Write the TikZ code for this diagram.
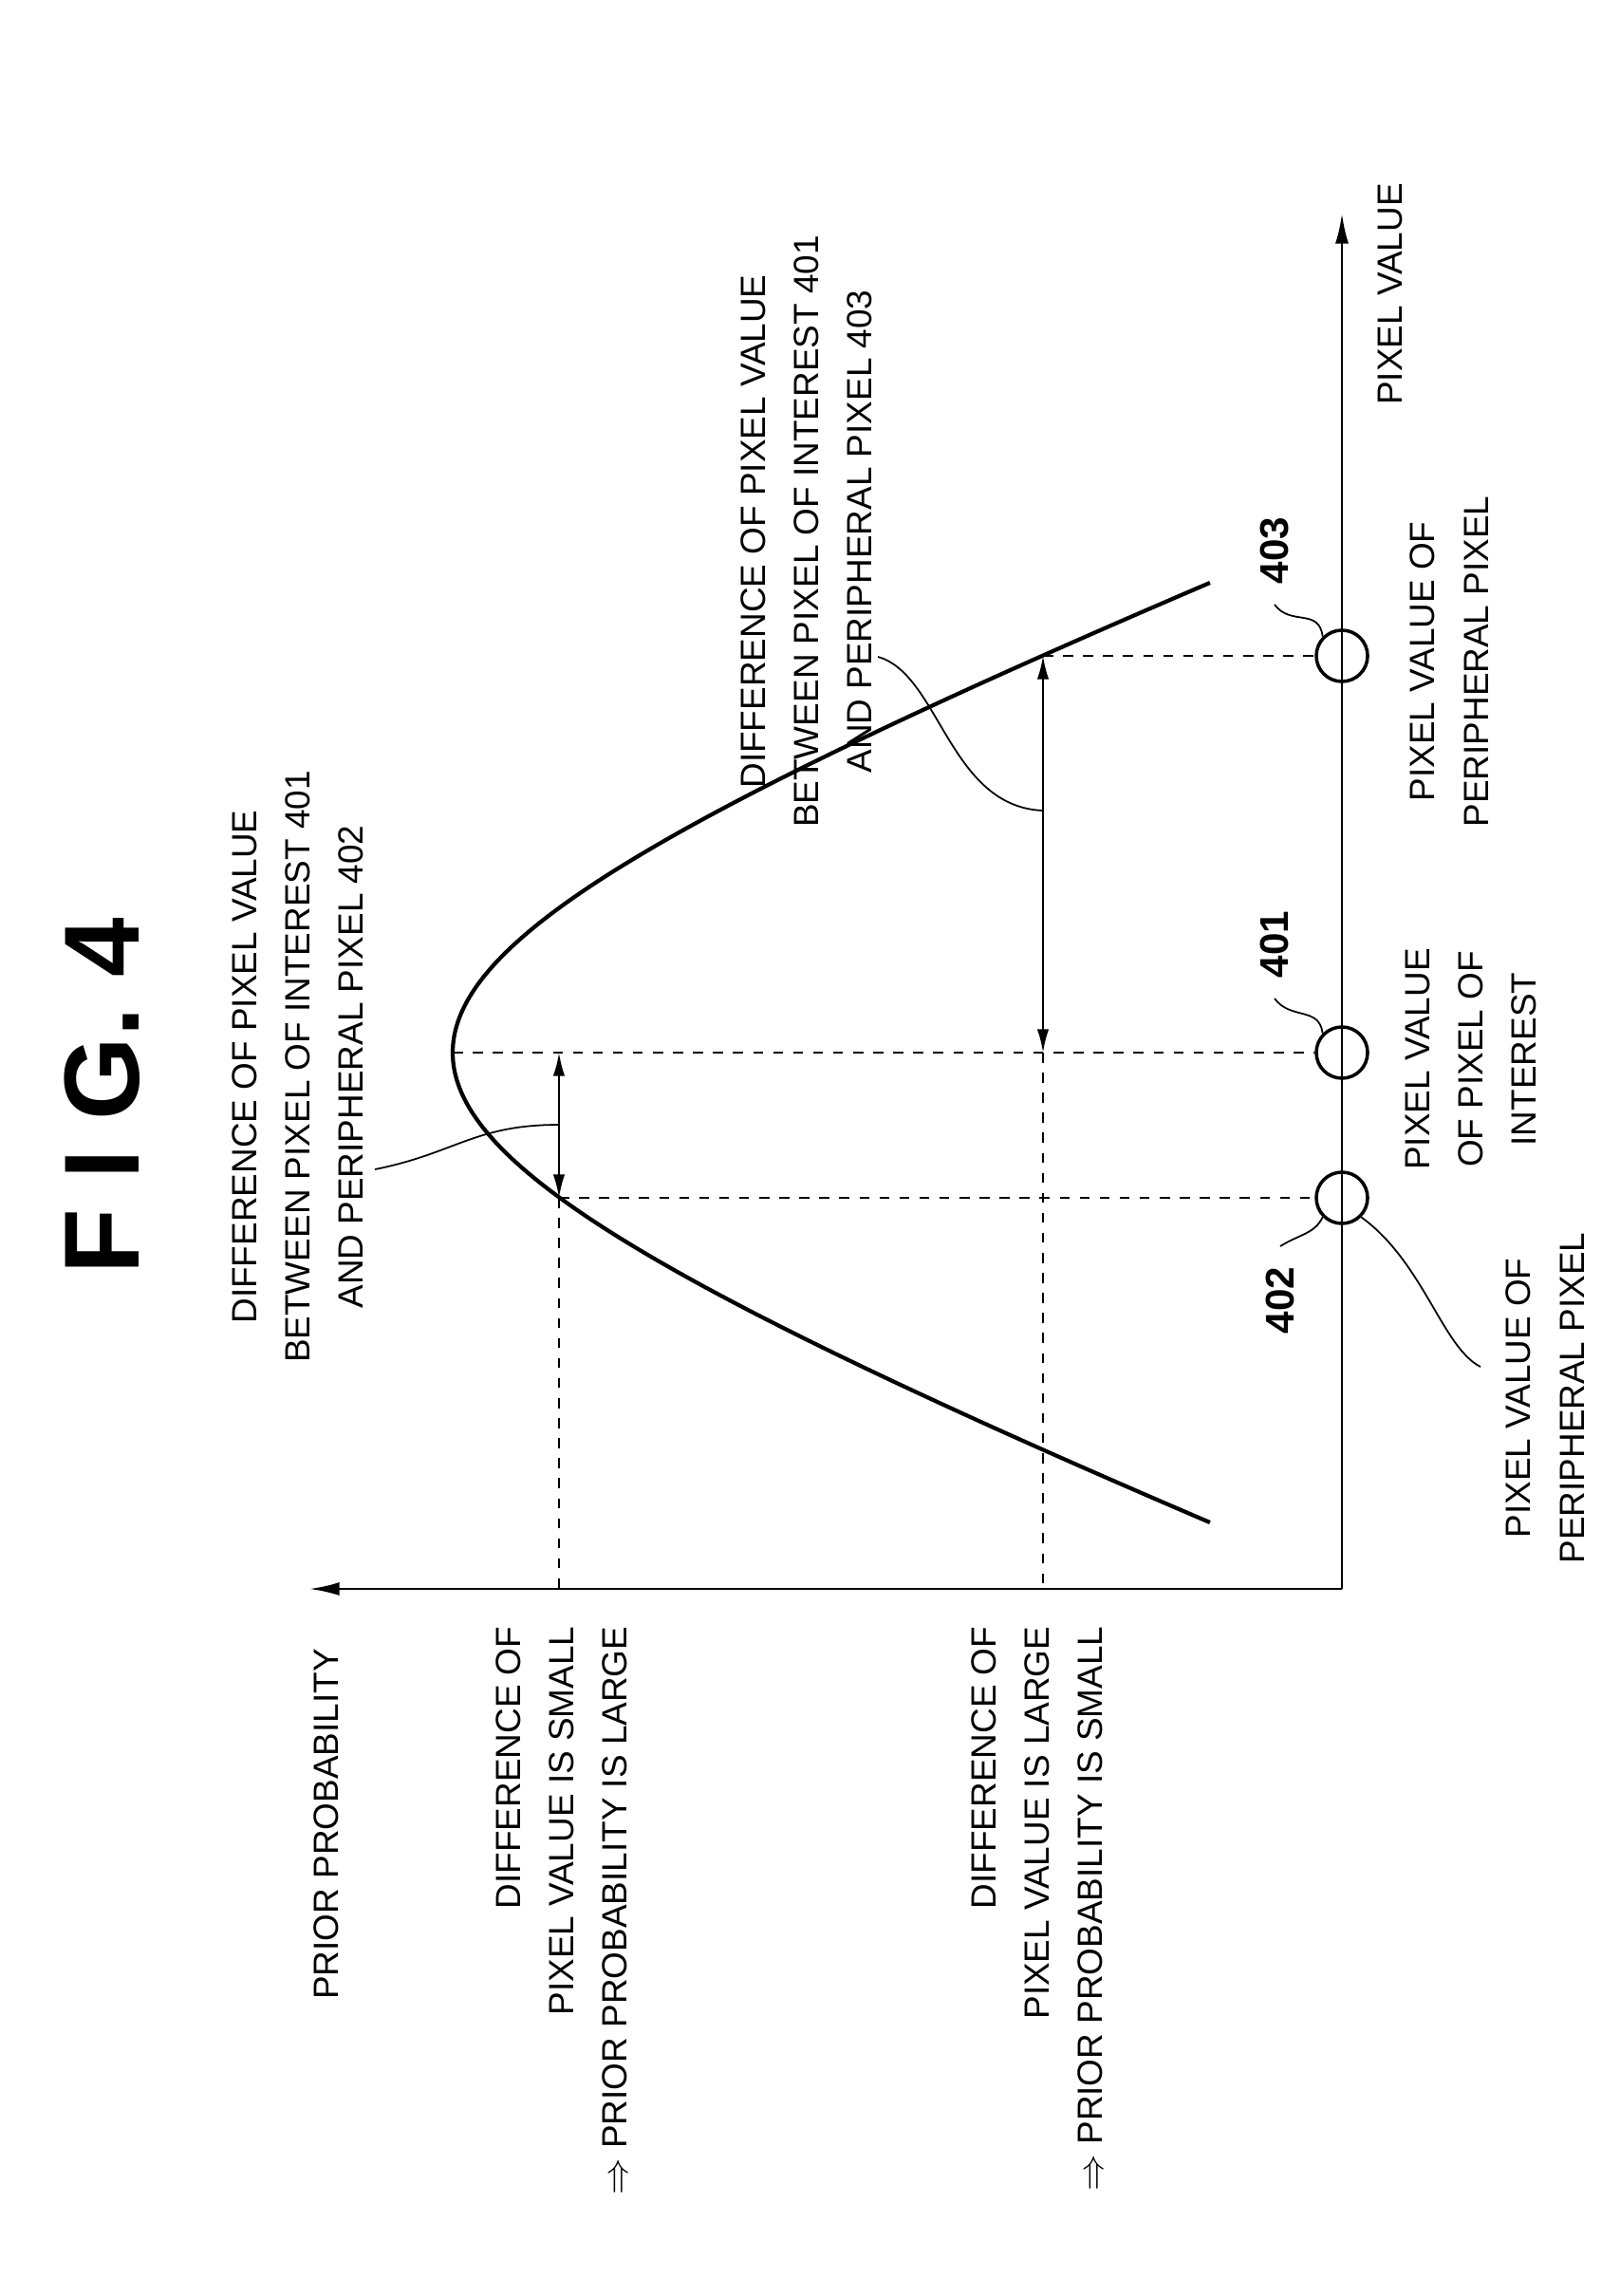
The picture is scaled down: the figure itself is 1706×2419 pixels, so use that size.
\documentclass[tikz,border=0pt]{standalone}
\usepackage{fontspec}
\setmainfont{Liberation Sans}
\usetikzlibrary{arrows.meta}
\tikzstyle{lbl} = [rotate=90, align=center, inner sep=0pt, font=\fontsize{10.5}{16}\selectfont]
\tikzstyle{refnum} = [rotate=90, inner sep=0pt, font=\bfseries\fontsize{12}{12}\selectfont]
\tikzstyle{pt} = [circle, draw, line width=1pt, fill=white, minimum size=0.54cm, inner sep=0pt]
\tikzstyle{proj} = [dashed, line width=0.6pt, dash pattern=on 3pt off 3pt]
\tikzstyle{tip} = [{Latex[length=7pt,width=3.5pt]}-{Latex[length=7pt,width=3.5pt]}, line width=0.6pt]
\tikzstyle{lead} = [line width=0.5pt]

\begin{document}
\begin{tikzpicture}[x=0.01cm, y=-0.01cm]
\useasboundingbox (0,0) rectangle (1706,2419);

% Define nodes
\coordinate (o)  at (1414,1674);
\coordinate (vx) at (1414,225);
\coordinate (py) at (326,1674);
\node[pt] (p403) at (1414,691)  {};
\node[pt] (p401) at (1414,1109) {};
\node[pt] (p402) at (1414,1262) {};

\coordinate (c403) at (1099,691);
\coordinate (c401) at (477,1109);
\coordinate (c402) at (589,1262);
\coordinate (b403) at (1099,1109);
\coordinate (b402) at (589,1109);
\coordinate (f403) at (1099,1674);
\coordinate (f402) at (589,1674);

\node[refnum] (t403) at (1343,580)  {403};
\node[refnum] (t401) at (1343,995)  {401};
\node[refnum] (t402) at (1349,1370) {402};

\node[lbl, font=\bfseries\fontsize{32}{32}\selectfont] (fig) at (108,1155) {F I G. 4};
\node[lbl] (pv)  at (1465,310)  {PIXEL VALUE};
\node[lbl] (pp)  at (344,1922)  {PRIOR PROBABILITY};
\node[lbl] (d402) at (314,1124) {DIFFERENCE OF PIXEL VALUE\\BETWEEN PIXEL OF INTEREST 401\\AND PERIPHERAL PIXEL 402};
\node[lbl] (d403) at (850,560)  {DIFFERENCE OF PIXEL VALUE\\BETWEEN PIXEL OF INTEREST 401\\AND PERIPHERAL PIXEL 403};
\node[lbl] (v403) at (1527,697) {PIXEL VALUE OF\\PERIPHERAL PIXEL};
\node[lbl] (v401) at (1550,1116) {PIXEL VALUE\\OF PIXEL OF\\INTEREST};
\node[lbl] (v402) at (1628,1473) {PIXEL VALUE OF\\PERIPHERAL PIXEL};
\node[lbl, align=right, anchor=east] (small) at (592,1713) {DIFFERENCE OF\\PIXEL VALUE IS SMALL\\$\Rightarrow$ PRIOR PROBABILITY IS LARGE};
\node[lbl, align=right, anchor=east] (large) at (1093,1713) {DIFFERENCE OF\\PIXEL VALUE IS LARGE\\$\Rightarrow$ PRIOR PROBABILITY IS SMALL};

% Axes and curve
\draw[line width=0.8pt, -{Latex[length=9pt,width=4pt]}] (o) -- (vx);
\draw[line width=0.8pt, -{Latex[length=9pt,width=4pt]}] (o) -- (py);
\draw[line width=1.2pt, samples=120, domain=-495:495, smooth]
  plot ({477+655*(sqrt(1+(\x/250)^2)-1)}, {1109+\x});

% Edges
\draw[proj] (c403) -- (p403.west);
\draw[proj] (c401) -- (p401.west);
\draw[proj] (c402) -- (p402.west);
\draw[proj] (b403) -- (f403);
\draw[proj] (c402) -- (f402);
\draw[tip] (c403) -- (b403);
\draw[tip] (b402) -- (c402);

\draw[lead] (395,1232) .. controls (480,1215) and (500,1185) .. (589,1185);
\draw[lead] (925,692) .. controls (990,710) and (1000,850) .. (1099,854);
\draw[lead] ([yshift=-6pt]t403.west) .. controls (1360,660) and (1390,640) .. (p403.north west);
\draw[lead] ([yshift=-6pt]t401.west) .. controls (1360,1075) and (1390,1060) .. (p401.north west);
\draw[lead] ([yshift=6pt]t402.east) .. controls (1370,1300) and (1385,1300) .. (p402.south west);
\draw[lead] (p402.south east) .. controls (1500,1330) and (1520,1420) .. (1560,1440);
\end{tikzpicture}
\end{document}
